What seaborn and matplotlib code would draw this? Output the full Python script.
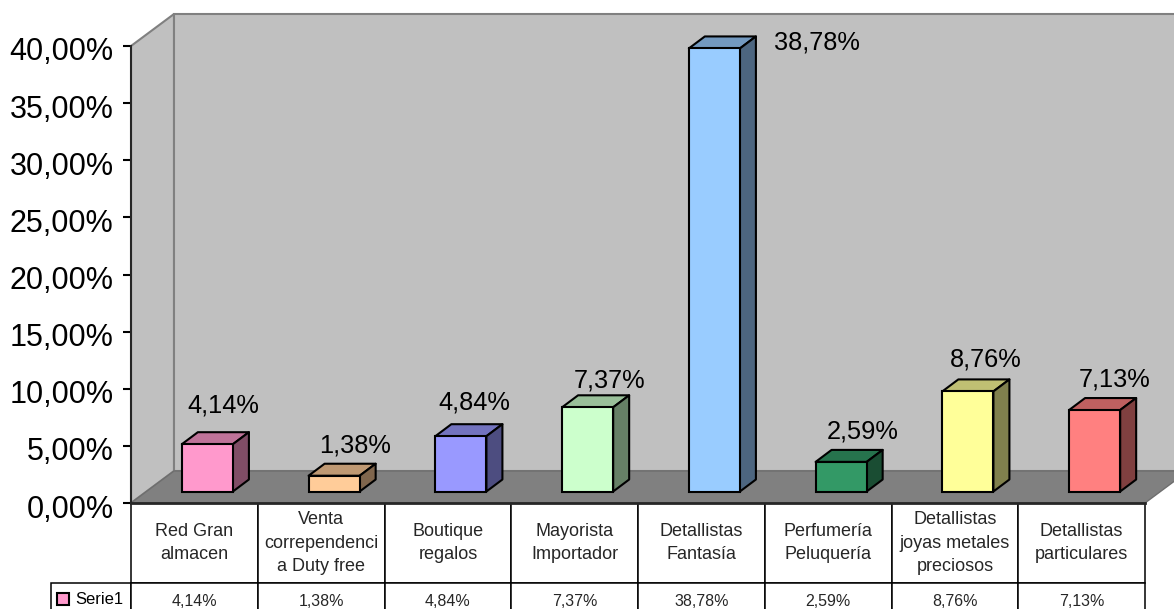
import matplotlib.colors as mcolors
import matplotlib.pyplot as plt
import seaborn as sns
from matplotlib.patches import Patch, Polygon
from matplotlib.transforms import ScaledTranslation

categories = ['Red Gran\nalmacen', 'Venta\ncorrependenci\na Duty free', 'Boutique\nregalos',
              'Mayorista\nImportador', 'Detallistas\nFantasía', 'Perfumería\nPeluquería',
              'Detallistas\njoyas metales\npreciosos', 'Detallistas\nparticulares']
values = [4.14, 1.38, 4.84, 7.37, 38.78, 2.59, 8.76, 7.13]
colors = ['#FF99CC', '#FFCC99', '#9999FF', '#CCFFCC', '#99CCFF', '#339966', '#FFFF99', '#FF8080']
series_name = 'Serie1'
y_ticks = [0, 5, 10, 15, 20, 25, 30, 35, 40]

# label offsets from the top of each bar, in pixels
label_dx = [16, 21, 13, 22, 103, 22, 18, 20]
label_dy = [39, 30, 34, 27, 6, 30, 32, 31]


def pct(v):
    return f'{v:.2f}%'.replace('.', ',')


def shade(color, factor):
    return tuple(c * factor for c in mcolors.to_rgb(color))


sns.set_style('white')
plt.rcParams['font.family'] = ['Liberation Sans', 'DejaVu Sans']

W, H = 1174, 609
px_x = 126.75
px_y = 457 / 40
fig = plt.figure(figsize=(W / 100, H / 100), dpi=100)
ax = fig.add_axes([131 / W, (H - 503) / H, 1043 / W, 503 / H])

x0 = -0.5 - 13 / px_x
wall_dx = 43 / px_x
wall_dy = 32 / px_y
x1 = x0 + 8
top = 40
grey = '#808080'
ax.add_patch(Polygon([(x0, 0), (x0 + wall_dx, wall_dy), (x0 + wall_dx, top + wall_dy), (x0, top)],
                     fc='#C0C0C0', ec=grey, lw=1.5, zorder=0))
ax.add_patch(Polygon([(x0 + wall_dx, wall_dy), (x1 + wall_dx, wall_dy), (x1 + wall_dx, top + wall_dy),
                      (x0 + wall_dx, top + wall_dy)], fc='#C0C0C0', ec=grey, lw=1.5, zorder=0))
ax.add_patch(Polygon([(x0, 0), (x1, 0), (x1 + wall_dx, wall_dy), (x0 + wall_dx, wall_dy)],
                     fc=grey, ec='#6E6E6E', lw=1, zorder=1))

# floor gap under the bars, the 3d chart stands them back from the front edge
base = 11.5 / px_y
sns.barplot(x=list(range(len(values))), y=values, hue=list(range(len(values))), palette=colors,
            legend=False, width=0.403, bottom=base, saturation=1, edgecolor='black', linewidth=1.5,
            zorder=4, ax=ax)
ax.set_xlim(x0, x0 + 1043 / px_x)
ax.set_ylim(0, 503 / px_y)

bars = [p for p in ax.patches if p.get_zorder() == 4]
ddx = 16 / px_x
ddy = 12 / px_y
for i, bar in enumerate(bars):
    l, b = bar.get_x(), bar.get_y()
    r, t = l + bar.get_width(), b + bar.get_height()
    ax.add_patch(Polygon([(l, t), (r, t), (r + ddx, t + ddy), (l + ddx, t + ddy)],
                         fc=shade(colors[i], 0.75), ec='black', lw=1.5, zorder=3, joinstyle='round'))
    ax.add_patch(Polygon([(r, b), (r + ddx, b + ddy), (r + ddx, t + ddy), (r, t)],
                         fc=shade(colors[i], 0.5), ec='black', lw=1.5, zorder=3, joinstyle='round'))
    ax.annotate(pct(values[i]), xy=((l + r) / 2, t), xytext=(label_dx[i], label_dy[i]),
                textcoords='offset pixels', ha='center', va='center', fontsize=18.3, color='black',
                zorder=6)

for name in ['top', 'right']:
    ax.spines[name].set_visible(False)
ax.spines['left'].set_bounds(0, top)
ax.spines['bottom'].set_bounds(x0, x1)
ax.spines['left'].set_linewidth(1.5)
ax.spines['bottom'].set_linewidth(2)
ax.spines['left'].set_zorder(5)
ax.spines['bottom'].set_zorder(5)
ax.set_xticks([])
ax.set_xlabel('')
ax.set_yticks(y_ticks)
ax.set_yticklabels([pct(v) for v in y_ticks], fontsize=22)
ax.tick_params(axis='y', left=True, length=6, width=1.5, pad=6.5, color='black', labelcolor='black')
# original tick labels sit a little under their ticks
nudge = ScaledTranslation(0, -3 / 100, fig.dpi_scale_trans)
for lab in ax.get_yticklabels():
    lab.set_transform(lab.get_transform() + nudge)

# data table under the plot, it runs past the bottom edge like the original
cell_text = [[''] + categories, [''] + [pct(v) for v in values]]
tbl = ax.table(cellText=cell_text, cellLoc='center',
               bbox=[-80 / 1043, -118 / 503, 1094 / 1043, 118 / 503])
tbl.auto_set_font_size(False)
for (row, col), cell in tbl.get_celld().items():
    cell.set_linewidth(1.1)
    cell.set_edgecolor('black')
    cell.set_width(80 if col == 0 else px_x)
    cell.set_height(80 if row == 0 else 38)
    cell.get_text().set_fontsize(13 if row == 0 else 11.5)
    cell.get_text().set_linespacing(1.5)
    cell.set_clip_on(False)
tbl[0, 0].set_visible(False)

handle = Patch(fc=colors[0], ec='black', lw=1.5)
ax.legend(handles=[handle], labels=[series_name], frameon=False, fontsize=12, loc='center left',
          bbox_to_anchor=(-74 / 1043, -97 / 503), handlelength=0.7, handleheight=0.7,
          handletextpad=0.4, borderpad=0, borderaxespad=0, labelcolor='black')

fig.savefig('out.png', dpi=100)
